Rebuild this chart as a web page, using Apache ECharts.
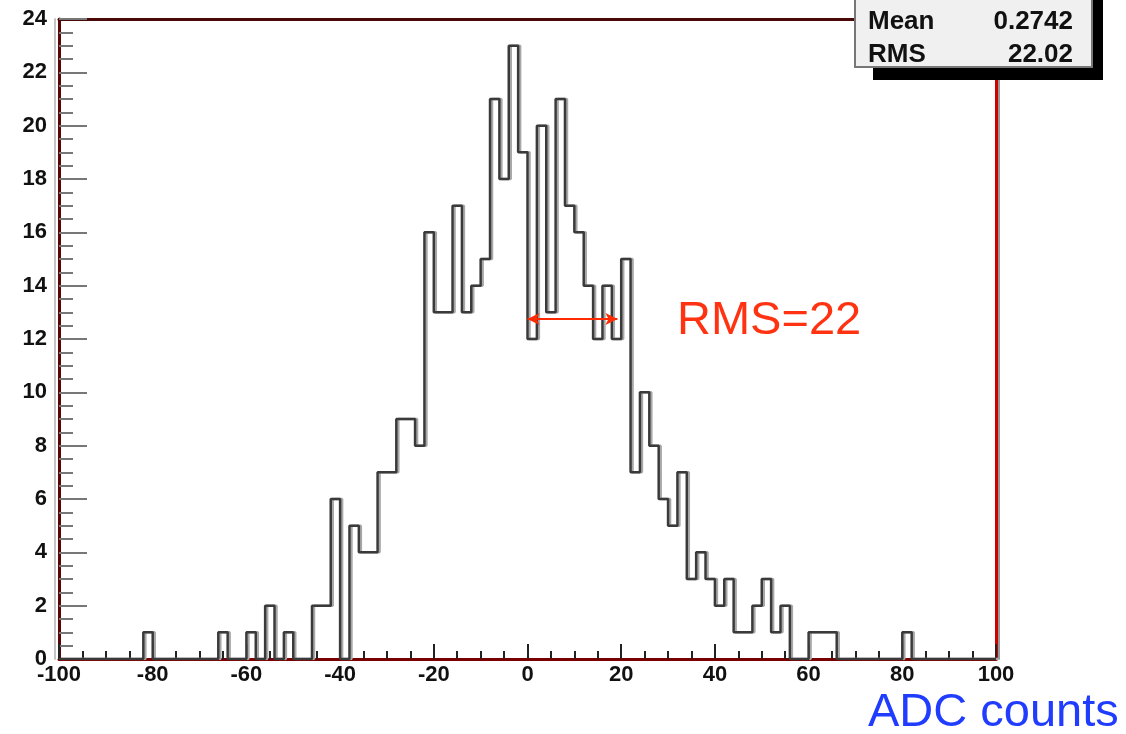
<!DOCTYPE html>
<html>
<head>
<meta charset="utf-8">
<script src="https://cdn.jsdelivr.net/npm/echarts@6/dist/echarts.min.js"></script>
<style>html,body{margin:0;padding:0;background:#fff}#c{width:1126px;height:734px}</style>
</head>
<body>
<div id="c"></div>
<script>
// ---- data ----
const binStart = -100;
const binWidth = 2;
// counts per 2-unit bin, from -100 to 100 (100 bins)
const counts = [
  0,0,0,0,0,0,0,0,0,1,        // -100 .. -82
  0,0,0,0,0,0,0,1,0,0,        // -80 .. -62
  1,0,2,0,1,0,0,2,2,6,        // -60 .. -42
  0,5,4,4,7,7,9,9,8,16,       // -40 .. -22
  13,13,17,13,14,15,21,18,23,19, // -20 .. -2
  12,20,13,21,17,16,14,12,14,12, // 0 .. 18
  15,7,10,8,6,5,7,3,4,3,      // 20 .. 38
  2,3,1,1,2,3,1,2,0,0,        // 40 .. 58
  1,1,1,0,0,0,0,0,0,0,        // 60 .. 78
  1,0,0,0,0,0,0,0,0,0         // 80 .. 98
];
const xRange = [-100, 100];
const xTickStep = 20;
const yRange = [0, 24];
const yTickStep = 2;
const statsNames = ['Mean', 'RMS'];
const statsValues = ['0.2742', '22.02'];
const rmsArrowX = [0, 19.2];
const rmsArrowLevel = 12.75;
const rmsText = 'RMS=22';
const xTitle = 'ADC counts';

// ---- build step data ----
const stepData = counts.map((v, i) => [binStart + i * binWidth, v]);
stepData.push([binStart + counts.length * binWidth, counts[counts.length - 1]]);

const chart = echarts.init(document.getElementById('c'), null, {renderer: 'canvas'});
const labelFont = {fontFamily: 'Liberation Sans, Arial, sans-serif', fontWeight: 'bold', fontSize: 22, color: '#111'};
const frameAxis = (extra) => Object.assign({
  type: 'value', axisTick: {show: false}, axisLabel: {show: false}, splitLine: {show: false}
}, extra);

const option = {
  animation: false,
  backgroundColor: '#fff',
  grid: {left: 59, right: 130, top: 19, bottom: 75},
  xAxis: [{
    type: 'value', min: xRange[0], max: xRange[1], interval: xTickStep,
    axisLine: {show: true, onZero: false, lineStyle: {color: '#7a0000', width: 3}},
    axisTick: {show: true, inside: true, length: 15, lineStyle: {color: '#222', width: 2}},
    minorTick: {show: true, splitNumber: 4, length: 8, lineStyle: {color: '#222', width: 2}},
    splitLine: {show: false},
    axisLabel: Object.assign({margin: 5, showMinLabel: true, showMaxLabel: true}, labelFont)
  }, frameAxis({
    position: 'top', min: xRange[0], max: xRange[1],
    axisLine: {show: true, onZero: false, lineStyle: {color: '#4a0808', width: 3}}
  })],
  yAxis: [{
    type: 'value', min: yRange[0], max: yRange[1], interval: yTickStep,
    axisLine: {show: true, onZero: false, lineStyle: {color: '#5a0505', width: 3}},
    axisTick: {show: true, inside: true, length: 28, lineStyle: {color: '#777', width: 2}},
    minorTick: {show: true, splitNumber: 4, length: 14, lineStyle: {color: '#777', width: 2}},
    splitLine: {show: false},
    axisLabel: Object.assign({margin: 12, showMinLabel: true, showMaxLabel: true}, labelFont)
  }, frameAxis({
    position: 'right', min: yRange[0], max: yRange[1],
    axisLine: {show: true, onZero: false, lineStyle: {color: '#cc0000', width: 3}}
  }), frameAxis({
    position: 'right', offset: 3, min: yRange[0], max: yRange[1],
    axisLine: {show: true, onZero: false, lineStyle: {color: '#999', width: 2}}
  }), frameAxis({
    position: 'left', offset: 4, min: yRange[0], max: yRange[1],
    axisLine: {show: true, onZero: false, lineStyle: {color: '#c4c4c4', width: 2}}
  })],
  series: [{
    type: 'line',
    step: 'end',
    data: stepData,
    xAxisIndex: 0, yAxisIndex: 0,
    showSymbol: false,
    symbol: 'none',
    silent: true,
    lineStyle: {color: '#3a3a3a', width: 2.5, shadowColor: '#a8a8a8', shadowOffsetX: 2, shadowBlur: 0},
    markLine: {
      silent: true,
      symbol: ['arrow', 'arrow'],
      symbolSize: [9, 12],
      label: {show: false},
      lineStyle: {color: '#ff2a00', width: 2, type: 'solid'},
      data: [[{coord: [rmsArrowX[0], rmsArrowLevel]}, {coord: [rmsArrowX[1], rmsArrowLevel]}]]
    }
  }],
  graphic: [
    {type: 'rect', shape: {x: 873, y: -20, width: 230, height: 100}, style: {fill: '#000'}, z: 100},
    {type: 'rect', shape: {x: 855, y: -20, width: 237, height: 87}, style: {fill: '#f0f0f0', stroke: '#777', lineWidth: 2}, z: 101},
    {type: 'text', x: 868, y: 22, z: 102, style: {text: statsNames[0], fill: '#111', font: 'bold 26px Liberation Sans, Arial', textVerticalAlign: 'middle'}},
    {type: 'text', x: 868, y: 55, z: 102, style: {text: statsNames[1], fill: '#111', font: 'bold 26px Liberation Sans, Arial', textVerticalAlign: 'middle'}},
    {type: 'text', x: 1073, y: 22, z: 102, style: {text: statsValues[0], fill: '#111', font: 'bold 26px Liberation Sans, Arial', textAlign: 'right', textVerticalAlign: 'middle'}},
    {type: 'text', x: 1073, y: 55, z: 102, style: {text: statsValues[1], fill: '#111', font: 'bold 26px Liberation Sans, Arial', textAlign: 'right', textVerticalAlign: 'middle'}},
    {type: 'text', x: 677, y: 321, z: 50, style: {text: rmsText, fill: '#ff3311', font: '47px Liberation Sans, Arial', textVerticalAlign: 'middle'}},
    {type: 'text', x: 868, y: 713, z: 50, style: {text: xTitle, fill: '#1f3cff', font: '47px Liberation Sans, Arial', textVerticalAlign: 'middle'}}
  ]
};
chart.setOption(option);
</script>
</body>
</html>
